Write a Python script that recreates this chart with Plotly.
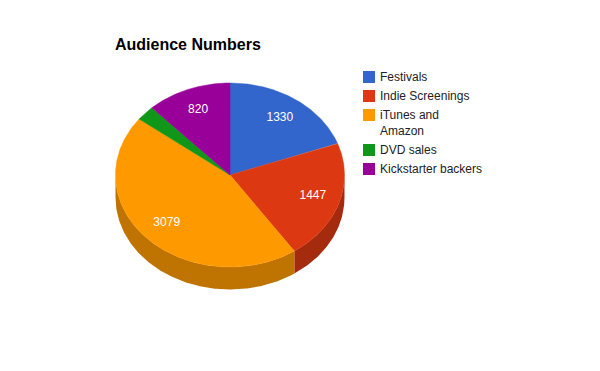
import numpy as np
import plotly.graph_objects as go

categories = ["Festivals", "Indie Screenings", "iTunes and<br>Amazon", "DVD sales", "Kickstarter backers"]
values = [1330, 1447, 3079, 180, 820]
colors = ["#3366cc", "#dc3912", "#ff9900", "#109618", "#990099"]
side_colors = ["#264d99", "#a52b0e", "#bf7300", "#0c7112", "#730073"]
title = "Audience Numbers"

CX, CY, RX, RY, DEPTH = 230.0, 175.0, 114.5, 92.0, 22.5
LABEL_R = 0.76
FONT = "Arial, Liberation Sans, sans-serif"


def ex(a):
    return CX + RX * np.sin(a)


def ey(a):
    return CY - RY * np.cos(a)


fig = go.Figure()
total = sum(values)
edges = np.concatenate([[0], np.cumsum(values)]) / total * 2 * np.pi

# side wall (only the front half of the ellipse is visible)
for i in range(len(values)):
    a0, a1 = max(edges[i], np.pi / 2), min(edges[i + 1], 3 * np.pi / 2)
    if a1 <= a0:
        continue
    t = np.linspace(a0, a1, 200)
    x = np.concatenate([ex(t), ex(t[::-1])])
    y = np.concatenate([ey(t), ey(t[::-1]) + DEPTH])
    fig.add_trace(go.Scatter(x=x, y=y, mode="lines", fill="toself", fillcolor=side_colors[i],
                             line=dict(width=0), hoverinfo="skip", showlegend=False))

# top face
for i in range(len(values)):
    t = np.linspace(edges[i], edges[i + 1], 300)
    x = np.concatenate([[CX], ex(t), [CX]])
    y = np.concatenate([[CY], ey(t), [CY]])
    fig.add_trace(go.Scatter(x=x, y=y, mode="lines", fill="toself", fillcolor=colors[i],
                             line=dict(width=0.5, color=colors[i]), hoverinfo="skip", showlegend=False))

# slice labels
mids = (edges[:-1] + edges[1:]) / 2
shown = [i for i, v in enumerate(values) if v / total >= 0.05]
fig.add_trace(go.Scatter(
    x=[CX + LABEL_R * RX * np.sin(mids[i]) for i in shown],
    y=[CY - LABEL_R * RY * np.cos(mids[i]) for i in shown],
    mode="text", text=[str(values[i]) for i in shown], textposition="middle center",
    textfont=dict(family=FONT, size=12, color="#ffffff"), hoverinfo="skip", showlegend=False))

# legend
rows, row = [], 77.0
for c in categories:
    rows.append(row)
    row += 19 + 16 * c.count("<br>")
fig.add_trace(go.Scatter(x=[369] * len(rows), y=rows, mode="markers",
                         marker=dict(symbol="square", size=12, color=colors, line=dict(width=0)),
                         hoverinfo="skip", showlegend=False))
annotations = [
    dict(x=380, y=r - 9, text=c, xref="x", yref="y", xanchor="left", yanchor="top", align="left",
         showarrow=False, xshift=-2, font=dict(family=FONT, size=12, color="#222222"))
    for c, r in zip(categories, rows)
]
annotations.append(dict(x=115, y=44, text=f"<b>{title}</b>", xref="x", yref="y", xanchor="left",
                        yanchor="middle", showarrow=False, xshift=-2,
                        font=dict(family=FONT, size=16, color="#000000")))

fig.update_layout(
    width=600, height=371, margin=dict(l=0, r=0, t=0, b=0),
    paper_bgcolor="#ffffff", plot_bgcolor="#ffffff", showlegend=False,
    xaxis=dict(range=[0, 600], visible=False, fixedrange=True),
    yaxis=dict(range=[371, 0], visible=False, fixedrange=True),
    annotations=annotations,
)
fig.write_html("out.html", config={"displayModeBar": False},
               post_script="document.body.style.margin='0';document.documentElement.style.overflow='hidden';")
